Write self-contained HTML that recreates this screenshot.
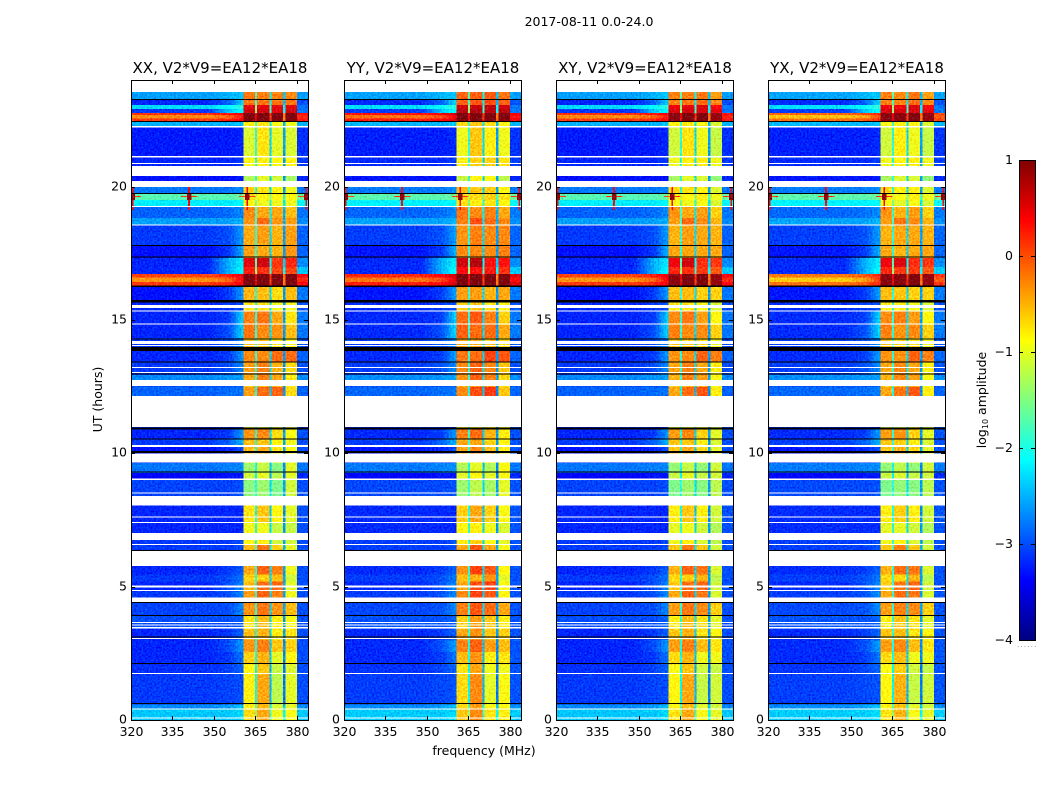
<!DOCTYPE html>
<html lang="en">
<head>
<meta charset="utf-8">
<title>2017-08-11 0.0-24.0</title>
<style>
html,body{margin:0;padding:0;background:#fff;}
svg{display:block;font-family:"DejaVu Sans","Liberation Sans",sans-serif;fill:#000;}
</style>
</head>
<body>
<svg id="chart" xmlns="http://www.w3.org/2000/svg" width="1050" height="800" viewBox="0 0 1050 800">
  <defs>
    <filter id="speckle" filterUnits="userSpaceOnUse" x="0" y="0" width="1050" height="800" color-interpolation-filters="sRGB">
      <feTurbulence type="fractalNoise" baseFrequency="0.55" numOctaves="1" seed="4" result="n"/>
      <feColorMatrix in="n" type="matrix" values="0 0 0 0 0.5  1 0 0 0 0  1 0 0 0 0.08  0 0 0 0 1" result="g"/>
      <feComposite in="SourceGraphic" in2="g" operator="arithmetic" k1="0" k2="1" k3="0.6" k4="-0.3" result="m"/>
      <feComposite in="m" in2="SourceAlpha" operator="in"/>
    </filter>
  </defs>
  <text x="589" y="26" text-anchor="middle" font-size="12.5">2017-08-11 0.0-24.0</text>
  <text x="484" y="755" text-anchor="middle" font-size="12.5">frequency (MHz)</text>
  <text transform="translate(102,399.5) rotate(-90)" text-anchor="middle" font-size="12.5">UT (hours)</text>
  <text transform="translate(986,400) rotate(-90)" text-anchor="middle" font-size="12.5">log<tspan font-size="8" dy="2">10</tspan><tspan dy="-2"> amplitude</tspan></text>
  <text x="1017" y="647" font-size="7" fill="#777" letter-spacing="1.2">......</text>
</svg>
<script>
// Panels
const polarizations = ["XX", "YY", "XY", "YX"];
const baselineLabel = ", V2*V9=EA12*EA18";
const bandOffsets = [[0, 0, 0, 0], [0.1, 0.15, 0.2, 0.1], [-0.05, 0, 0.05, -0.1], [-0.05, -0.05, 0.05, -0.1]];
const backgroundOffsets = [0, 0.02, 0, 0.03];
const strongRowOffsets = [0, 0.12, 0, -0.3];
const notchOffsets = [0.1, -0.3, -0.6];

// Axes ticks
const freqTicks = [320, 335, 350, 365, 380];
const hourTicks = [0, 5, 10, 15, 20];
const colorTicks = [1, 0, -1, -2, -3, -4];

// Frequency zones (MHz) and which level each zone reads
const freqEdges = [320, 348, 355.5, 360.6, 364.8, 365.6, 370, 370.8, 375, 375.8, 380, 384];
const zoneLevel = [0, 1, 2, 3, 8, 4, 8, 5, 8, 6, 7];

// UT row edges (hours)
const rowBreaks = [0, 0.39, 0.58, 1.7, 2.08, 2.55, 3, 3.41, 3.9, 4.39, 4.84, 5.2, 5.45, 5.78, 6.35, 6.56, 7.02, 7.39, 8.06, 8.4, 9, 9.26, 9.64, 10, 10.31, 10.54, 10.97, 12.15, 12.49, 12.75, 12.94, 13.43, 13.84, 14.32, 14.81, 15.34, 15.66, 16.28, 16.42, 16.6, 16.73, 16.99, 17.32, 17.78, 18.56, 18.83, 19.24, 19.5, 19.76, 20.21, 20.4, 20.78, 21.08, 22.24, 22.46, 22.55, 22.68, 22.76, 22.91, 23.06, 23.29, 23.55];

// log10 amplitude per row: [background, ramp1, ramp2, band1, band2, band3, band4, edge, notch]
const rowLevels = [
  [-2.4,-2.4,-2.3,-.7,-.45,-.95,-.9,-2.4,-1.5],
  [-2.7,-2.6,-2.4,-.8,-.55,-1.05,-1,-2.7,-1.8],
  [-3.1,-3.05,-3,-.8,-.45,-1.2,-1,-3,-2.2],
  [-3.15,-3.05,-2.9,-.85,-.6,-1.15,-1.05,-3,-2.2],
  [-3.2,-3.1,-2.8,-.65,-.5,-1,-.85,-3,-2.1],
  [-3.2,-3,-2.6,-.35,-.25,-.6,-.65,-3,-2.1],
  [-3.2,-3.1,-2.9,-.55,-.5,-.8,-.75,-3,-2],
  [-3,-3,-2.9,-.75,-.55,-.8,-.9,-3,-2],
  [-3.05,-3,-2.7,-.35,-.2,-.35,-.55,-3,-2],
  [-3.1,-3,-2.7,-.4,-.1,-.25,-.95,-3,-2],
  [-3.2,-3,-2.7,-.55,-.15,-.15,-1,-3,-2],
  [-3.1,-3,-2.8,-.65,-.65,-.55,-1.1,-3,-2],
  [-3.2,-3.1,-2.9,-.45,-.1,-.25,-.95,-3,-2],
  [-3.2,-3.2,-3.2,-1,-1,-1,-1,-3,-2],
  [-3.1,-3.1,-3,-.55,-.2,-.65,-1,-3,-1.9],
  [-3.1,-3.1,-3,-.9,-.8,-1.1,-1.1,-3,-2],
  [-3.2,-3.2,-3.2,-.95,-.95,-1.15,-1.15,-3,-2],
  [-3.2,-3.2,-3.2,-.75,-.6,-.85,-1,-3,-2.1],
  [-3.2,-3.2,-3.2,-1,-1,-1,-1,-3,-2],
  [-3.05,-3.05,-3,-1.45,-1.35,-1.5,-1.1,-3,-2],
  [-3.4,-3.3,-3.3,-1.1,-1,-1.2,-1,-3.2,-2.2],
  [-2.8,-2.75,-2.7,-1.35,-1.15,-1.45,-1,-2.8,-2.1],
  [-3.2,-3.2,-3.2,-1,-1,-1,-1,-3,-2],
  [-3.3,-3.2,-3,-.55,-.45,-.75,-.9,-3,-2],
  [-3.1,-2.9,-2.5,-.55,-.6,-.85,-.95,-3,-2],
  [-3.2,-3.1,-2.6,-.35,-.3,-.7,-.9,-3,-2],
  [-3.2,-3.2,-3.2,-1,-1,-1,-1,-3,-2],
  [-2.9,-2.85,-2.8,-.4,-.15,-.1,-.7,-2.9,-2.1],
  [-3,-3,-2.9,-.6,-.5,-.5,-.8,-3,-2],
  [-2.7,-2.65,-2.6,-.45,-.25,-.45,-.8,-2.7,-2],
  [-3.1,-3,-2.7,-.4,-.25,-.5,-.7,-3,-2],
  [-3.2,-3.1,-2.6,-.3,-.3,-.15,-.15,-2.9,-2],
  [-3.1,-3,-2.7,-.55,-.6,-.75,-.85,-3,-2],
  [-3.2,-3,-2.3,-.2,-.3,-.35,-.55,-2.8,-2],
  [-3.2,-3.1,-2.3,-.25,-.2,-.45,-.75,-2.8,-2],
  [-3.2,-3.1,-3,-.75,-.75,-.95,-.95,-3,-2],
  [-3.3,-3.1,-2.6,-.5,-.55,-.7,-.55,-2.8,-2],
  [.1,.2,.5,1,1,1,1,.4,.4],
  [-.35,-.1,.4,1,1,1,1,.2,.4],
  [.05,.25,.5,1,1,1,1,.4,.4],
  [-3.2,-2.5,-2.1,.25,.15,.05,.05,-2.4,-1.5],
  [-3.2,-2.5,-2.2,.5,.6,.1,.2,-2.7,-1.8],
  [-3.3,-3.1,-2.5,-.4,-.45,-.5,-.35,-2.9,-2],
  [-3.1,-3,-2.6,-.45,-.4,-.5,-.4,-2.9,-2],
  [-2.6,-2.6,-2.5,-.35,-.15,-.35,-.4,-2.7,-1.9],
  [-2.9,-2.85,-2.7,-.3,-.45,-.45,-.55,-2.8,-1.9],
  [-2.2,-2.2,-2.1,-.85,-.95,-.95,-.95,-2.1,-1.6],
  [-1.7,-1.7,-1.6,-.75,-.85,-.85,-.85,-1.6,-1.2],
  [-2.8,-2.8,-2.7,-.65,-.75,-.85,-.95,-2.8,-2],
  [-3.3,-3.3,-3.3,-1.25,-1,-1.1,-1.3,-3.2,-2],
  [-3.3,-3.3,-3.3,-1.25,-1,-1.1,-1.3,-3.2,-2],
  [-3.2,-3.2,-3.1,-.9,-.8,-.85,-.85,-3.1,-2],
  [-3.25,-3.25,-3.2,-1.05,-.75,-1,-1.05,-3.15,-2],
  [-2.5,-2.5,-2.4,-.8,-.75,-.9,-.95,-2.5,-1.9],
  [.1,.2,.45,1,1,1,1,.3,.4],
  [-.3,-.1,.3,1,1,1,1,.2,.4],
  [.15,.3,.5,1,1,1,1,.3,.4],
  [-3.1,-2.4,-2.1,.6,.6,.5,.6,-2.8,-1.5],
  [-2.3,-2.1,-1.9,.5,.5,.5,.5,-2.8,-1.5],
  [-3.2,-2.9,-2.3,-.2,-.2,-.2,-.2,-3,-1.9],
  [-2.6,-2.5,-2.4,-.2,-.25,-.25,-.3,-2.6,-1.8]
];

// UT spans with no data (white)
const missingSpans = [[23.55,24],[22.22,22.28],[21.09,21.15],[20.85,20.89],[20.4,20.78],[19.99,20.21],[19.24,19.28],[18.55,18.58],[15.45,15.56],[15.32,15.36],[14.83,14.87],[14.1,14.21],[14.03,14.06],[13.2,13.24],[13.01,13.05],[12.53,12.75],[10.99,12.15],[10.24,10.31],[9.66,9.99],[9,9.06],[8.49,8.53],[8.04,8.4],[7.59,7.63],[7.39,7.42],[6.75,7.02],[6.56,6.6],[5.78,6.34],[4.97,5.04],[4.84,4.88],[4.42,4.59],[3.64,3.68],[3.54,3.58],[3.43,3.49],[3.04,3.08],[1.72,1.76],[0.39,0.43],[0.06,0.09]];

// UT spans of zero amplitude (black)
const flaggedSpans = [[23.25,23.29],[22.43,22.46],[19.73,19.76],[17.78,17.81],[17.35,17.38],[16.24,16.3],[15.66,15.75],[14.27,14.3],[13.84,13.99],[13.41,13.44],[12.96,12.99],[10.9,10.97],[10.53,10.56],[10.01,10.09],[9.29,9.32],[6.34,6.37],[4.39,4.42],[3.9,3.93],[3.1,3.13],[2.1,2.13],[0.6,0.63]];

// Interference bursts
const burstFreqs = [320.6, 341, 362, 383.4];
const burstHour = 19.62;

const svg = document.getElementById('chart');
const NS = 'http://www.w3.org/2000/svg';
const panelLefts = [131, 344, 556, 768];
const panelWidth = 177, panelTop = 80, panelBottom = 720;
const freqMin = 320, freqMax = 384, hourMin = 0, hourMax = 24;
const barLeft = 1019, barWidth = 16, barTop = 160, barBottom = 640;
const rampSteps = 6;

function xScale(left, f) { return left + (f - freqMin) / (freqMax - freqMin) * panelWidth; }
function yScale(h) { return panelBottom - (h - hourMin) / (hourMax - hourMin) * (panelBottom - panelTop); }
function barY(v) { return barBottom - (v + 4) / 5 * (barBottom - barTop); }
function clamp(v) { return Math.max(0, Math.min(1, v)); }
function jet(v) {
  const t = clamp((v + 4) / 5);
  const r = clamp(Math.min(4 * t - 1.5, -4 * t + 4.5));
  const g = clamp(Math.min(4 * t - 0.5, -4 * t + 3.5));
  const b = clamp(Math.min(4 * t + 0.5, -4 * t + 2.5));
  return 'rgb(' + Math.round(r * 255) + ',' + Math.round(g * 255) + ',' + Math.round(b * 255) + ')';
}
function make(tag, attrs, parent) {
  const el = document.createElementNS(NS, tag);
  for (const k in attrs) el.setAttribute(k, attrs[k]);
  parent.appendChild(el);
  return el;
}

polarizations.forEach(function (pol, p) {
  const left = panelLefts[p];
  const panel = make('g', {}, svg);
  
  

  const bg = make('rect', { x: left, y: panelTop, width: panelWidth, height: panelBottom - panelTop, fill: '#fff' }, panel);
  
  

  const heat = make('g', { filter: 'url(#speckle)', 'shape-rendering': 'crispEdges' }, panel);
  
  

  rowLevels.forEach(function (levels, r) {
    const y1 = yScale(rowBreaks[r + 1]), y2 = yScale(rowBreaks[r]);
    const strong = levels[0] > -1;
    const baseOffset = backgroundOffsets[p] + (strong ? strongRowOffsets[p] : 0);
    let notchIndex = 0;
    zoneLevel.forEach(function (li, z) {
      const f1 = freqEdges[z], f2 = freqEdges[z + 1];
      if (li === 1 || li === 2) {
        for (let s = 0; s < rampSteps; s++) {
          const a = s / rampSteps, b = (s + 1) / rampSteps;
          const level = levels[li - 1] + (levels[li] - levels[li - 1]) * (a + b) / 2;
          const sx1 = xScale(left, f1 + (f2 - f1) * a), sx2 = xScale(left, f1 + (f2 - f1) * b);
          const rampCell = make('rect', { x: sx1, y: y1, width: sx2 - sx1, height: y2 - y1, fill: jet(level + baseOffset) }, heat);
          
          
        }
        return;
      }
      let offset = baseOffset;
      if (li >= 3 && li <= 6) offset = bandOffsets[p][li - 3];
      if (li === 8) { offset = notchOffsets[notchIndex]; notchIndex++; }
      const x1 = xScale(left, f1), x2 = xScale(left, f2);
      const cell = make('rect', { x: x1, y: y1, width: x2 - x1, height: y2 - y1, fill: jet(levels[li] + offset) }, heat);
      
      
    });
  });

  burstFreqs.forEach(function (f) {
    const fx = Math.max(freqMin, f - 0.3);
    const spike = make('rect', { x: xScale(left, fx), y: yScale(burstHour + 0.5), width: 1.6, height: yScale(burstHour - 0.5) - yScale(burstHour + 0.5), fill: jet(0.4) }, heat);
    
    
    const lo = Math.max(freqMin, f - 3), hi = Math.min(freqMax, f + 3);
    const arm = make('rect', { x: xScale(left, lo), y: yScale(burstHour + 0.03), width: xScale(left, hi) - xScale(left, lo), height: 1, fill: jet(0.1) }, heat);
    
    
    const cl = Math.max(freqMin, f - 0.8), ch = Math.min(freqMax, f + 0.8);
    const core = make('rect', { x: xScale(left, cl), y: yScale(burstHour + 0.12), width: xScale(left, ch) - xScale(left, cl), height: yScale(burstHour - 0.12) - yScale(burstHour + 0.12), fill: jet(0.9) }, heat);
    
    
  });

  missingSpans.forEach(function (s) {
    const gap = make('rect', { x: left, y: yScale(s[1]), width: panelWidth, height: yScale(s[0]) - yScale(s[1]), fill: '#fff', 'shape-rendering': 'crispEdges' }, panel);
    
    
  });
  flaggedSpans.forEach(function (s) {
    const h = Math.max(1, yScale(s[0]) - yScale(s[1]));
    const line = make('rect', { x: left, y: yScale(s[1]), width: panelWidth, height: h, fill: '#000', 'shape-rendering': 'crispEdges' }, panel);
    
    
  });

  const frame = make('rect', { x: left + 0.5, y: panelTop + 0.5, width: panelWidth, height: panelBottom - panelTop, fill: 'none', stroke: '#000', 'stroke-width': 1, 'shape-rendering': 'crispEdges' }, panel);
  
  

  const title = make('text', { x: left + panelWidth / 2 + 0.5, y: 73, 'text-anchor': 'middle', 'font-size': 15 }, panel);
  title.textContent = pol + baselineLabel;
  
  

  freqTicks.forEach(function (f) {
    const x = Math.round(xScale(left, f)) + 0.5;
    const t1 = make('line', { x1: x, x2: x, y1: panelTop, y2: panelTop + 4, stroke: '#000', 'shape-rendering': 'crispEdges' }, panel);
    
    
    const t2 = make('line', { x1: x, x2: x, y1: panelBottom - 4, y2: panelBottom, stroke: '#000', 'shape-rendering': 'crispEdges' }, panel);
    
    
    const lab = make('text', { x: x, y: 736, 'text-anchor': 'middle', 'font-size': 12.5 }, panel);
    lab.textContent = f;
    
    
  });
  hourTicks.forEach(function (h) {
    const y = Math.round(yScale(h)) + 0.5;
    const t1 = make('line', { x1: left, x2: left + 4, y1: y, y2: y, stroke: '#000', 'shape-rendering': 'crispEdges' }, panel);
    
    
    const t2 = make('line', { x1: left + panelWidth - 4, x2: left + panelWidth, y1: y, y2: y, stroke: '#000', 'shape-rendering': 'crispEdges' }, panel);
    
    
    const lab = make('text', { x: left - 4, y: y + 3, 'text-anchor': 'end', 'font-size': 12.5 }, panel);
    lab.textContent = h;
    
    
  });
});

// Colorbar
const bar = make('g', { 'shape-rendering': 'crispEdges' }, svg);


for (let py = barTop; py < barBottom; py += 2) {
  const v = 1 - (py + 1 - barTop) / (barBottom - barTop) * 5;
  const seg = make('rect', { x: barLeft, y: py, width: barWidth, height: 2, fill: jet(v) }, bar);
  
  
}
const barFrame = make('rect', { x: barLeft + 0.5, y: barTop + 0.5, width: barWidth, height: barBottom - barTop, fill: 'none', stroke: '#000' }, bar);


colorTicks.forEach(function (v) {
  const y = Math.min(barBottom, Math.round(barY(v))) + 0.5;
  const t1 = make('line', { x1: barLeft, x2: barLeft + 4, y1: y, y2: y, stroke: '#000' }, bar);
  
  
  const t2 = make('line', { x1: barLeft + barWidth - 4, x2: barLeft + barWidth, y1: y, y2: y, stroke: '#000' }, bar);
  
  
  const lab = make('text', { x: 1013, y: y + 3.5, 'text-anchor': 'end', 'font-size': 12.5 }, svg);
  lab.textContent = v < 0 ? '\u2212' + Math.abs(v) : String(v);
  
  
});
</script>
</body>
</html>
